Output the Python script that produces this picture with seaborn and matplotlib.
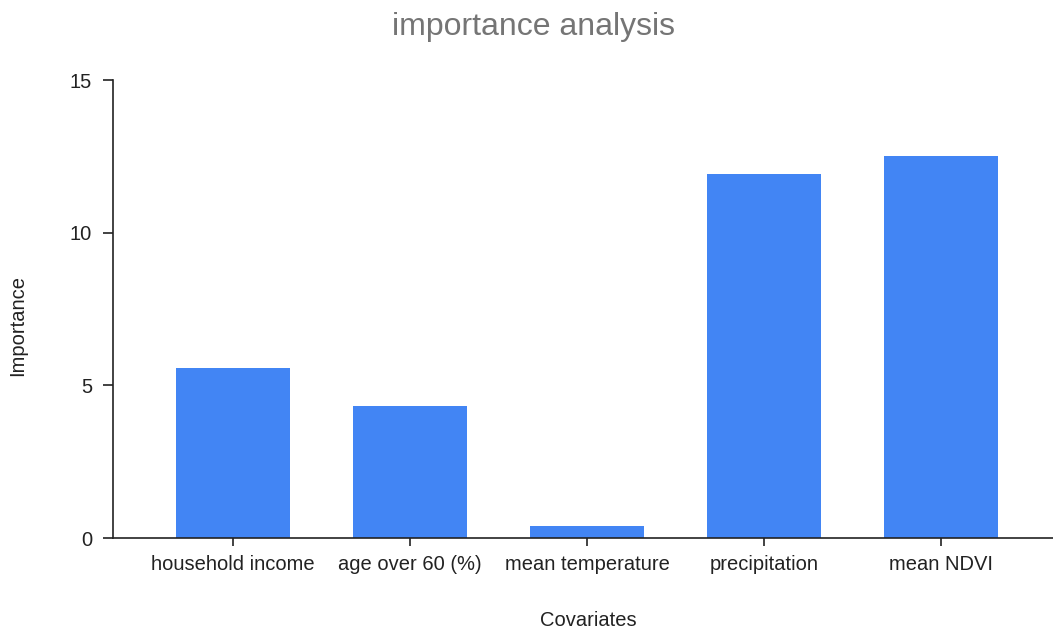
import matplotlib
matplotlib.use("Agg")
import matplotlib.pyplot as plt
import seaborn as sns
import pandas as pd

# Feature importance per covariate
covariates = ["household income", "age over 60 (%)", "mean temperature",
              "precipitation", "mean NDVI"]
importance = [5.57, 4.32, 0.39, 11.92, 12.51]

df = pd.DataFrame({"Covariates": covariates, "Importance": importance})

sns.set_theme(style="ticks")
plt.rcParams["font.family"] = ["Liberation Sans", "DejaVu Sans"]

W, H = 1053, 633
fig = plt.figure(figsize=(W / 100, H / 100), dpi=100)
ax = fig.add_axes([113 / W, 1 - 538 / H, 1 - 113 / W, (538 - 80) / H])

sns.barplot(data=df, x="Covariates", y="Importance", color="#4285F4",
            saturation=1, width=0.64, ax=ax, edgecolor="none")

ax.set_ylim(0, 15)
ax.set_yticks([0, 5, 10, 15])
ax.set_xlim(-0.678, 4.633)

for side in ("top", "right"):
    ax.spines[side].set_visible(False)
for side in ("left", "bottom"):
    ax.spines[side].set_color("#222222")
    ax.spines[side].set_linewidth(1.2)

ax.tick_params(axis="y", length=7, width=1.2, color="#222222",
               labelsize=14.5, labelcolor="#222222", pad=8)
ax.tick_params(axis="x", length=6, width=1.2, color="#222222",
               labelsize=14.5, labelcolor="#222222", pad=6)

ax.set_xlabel("Covariates", fontsize=14.5, color="#222222")
ax.set_ylabel("Importance", fontsize=14.5, color="#222222")
ax.xaxis.set_label_coords((588 - 113) / (W - 113), -(621 - 538) / (538 - 80))
ax.yaxis.set_label_coords(-(113 - 18) / (W - 113), (538 - 325) / (538 - 80))
ax.xaxis.label.set_va("center")
ax.yaxis.label.set_va("center")

fig.text(534 / W, 1 - 27 / H, "importance analysis", ha="center", va="center",
         fontsize=23, color="#757575")

fig.savefig("out.png", dpi=100, facecolor="white")
